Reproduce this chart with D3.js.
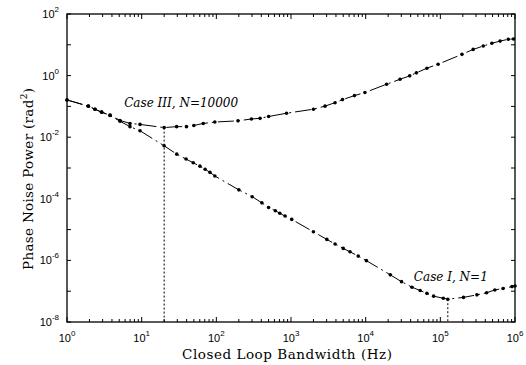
<!DOCTYPE html>
<html>
<head>
<meta charset="utf-8">
<script src="https://cdn.jsdelivr.net/npm/d3@7.9.0/dist/d3.min.js"></script>
<style>
  body { margin: 0; background: #fff; }
  svg { display: block; }
</style>
</head>
<body>
<svg id="chart" width="526" height="365"></svg>
<script>
// bandwidth (Hz) and phase noise power (rad^2)
const caseIIIx = [1, 1.93, 2.37, 2.91, 3.77, 5.13, 6.98, 9.5, 20, 29.4, 39.8, 50, 66.8, 95.5, 195, 295, 385, 501, 871,
  1995, 2851, 3890, 4900, 7080, 9770, 19050, 28840, 38900, 47860, 66070, 93300, 195000, 275400, 375800, 489800, 631000, 812800, 955000];
const caseIIIy = [0.162, 0.102, 0.081, 0.065, 0.052, 0.035, 0.028, 0.026, 0.0205, 0.022, 0.022, 0.024, 0.028, 0.031, 0.034, 0.039, 0.041, 0.047, 0.060,
  0.081, 0.102, 0.132, 0.166, 0.224, 0.282, 0.525, 0.76, 0.98, 1.23, 1.74, 2.34, 4.9, 7.08, 9.12, 11.2, 13.2, 15.1, 15.5];

const caseIx = [1, 1.93, 2.37, 2.91, 3.77, 5.13, 6.98, 9.5, 20, 29.5, 39.3, 49, 60.3, 70.8, 82.2, 95.5, 200, 302, 407, 501, 617, 708, 832, 1023,
  1995, 3020, 3890, 5010, 6170, 7940, 10230, 21380, 30200, 41690, 53700, 66070, 81280, 109600, 126000, 204000, 309000, 417000, 537000, 692000, 912000, 1000000];
const caseIy = [0.162, 0.102, 0.081, 0.065, 0.051, 0.033, 0.022, 0.0162, 0.00525, 0.00282, 0.00195, 0.00148, 0.00115, 0.00091, 0.00072, 0.00055, 0.000195, 0.000117, 7.4e-5, 5.2e-5, 4.1e-5, 3.4e-5, 2.75e-5, 2.14e-5,
  8.5e-6, 4.8e-6, 3.4e-6, 2.45e-6, 1.9e-6, 1.38e-6, 9.8e-7, 3.4e-7, 2.04e-7, 1.35e-7, 1.05e-7, 8.5e-8, 6.9e-8, 5.9e-8, 5.5e-8, 6.3e-8, 7.6e-8, 8.9e-8, 1.1e-7, 1.23e-7, 1.41e-7, 1.48e-7];

// optimum bandwidth markers (dotted drop lines)
const optX = [20, 126000];
const optY = [0.0205, 5.5e-8];

const xExp = [0, 1, 2, 3, 4, 5, 6];
const yExp = [2, 0, -2, -4, -6, -8];

const labels = [
  { text: 'Case III, N=10000', x: 20, y: 0.095, dx: 17 },
  { text: 'Case I, N=1', x: 126000, y: 2.2e-7, dx: 3 }
];

const svg = d3.select('#chart');
const margin = { top: 14, right: 11, bottom: 43, left: 67 };
const width = 526 - margin.left - margin.right;
const height = 365 - margin.top - margin.bottom;

const x = d3.scaleLog().domain([1, 1e6]).range([0, width]);
const y = d3.scaleLog().domain([1e-8, 1e2]).range([height, 0]);

const g = svg.append('g').attr('transform', `translate(${margin.left},${margin.top})`);

// minor + major ticks, pointing inward on all four sides
const xTicks = x.ticks();
const yTicks = d3.range(-8, 3).map((e) => Math.pow(10, e));
const isDecade = (v) => Math.abs(Math.log10(v) - Math.round(Math.log10(v))) < 1e-6;

xTicks.forEach((v) => {
  const len = isDecade(v) ? 5 : 3;
  g.append('line').attr('x1', x(v)).attr('x2', x(v)).attr('y1', height).attr('y2', height - len)
    .attr('stroke', '#000').attr('stroke-width', 1);
  g.append('line').attr('x1', x(v)).attr('x2', x(v)).attr('y1', 0).attr('y2', len)
    .attr('stroke', '#000').attr('stroke-width', 1);
});
yTicks.forEach((v) => {
  g.append('line').attr('x1', 0).attr('x2', 4).attr('y1', y(v)).attr('y2', y(v))
    .attr('stroke', '#000').attr('stroke-width', 1);
  g.append('line').attr('x1', width).attr('x2', width - 4).attr('y1', y(v)).attr('y2', y(v))
    .attr('stroke', '#000').attr('stroke-width', 1);
});

g.append('rect').attr('width', width).attr('height', height)
  .attr('fill', 'none').attr('stroke', '#000').attr('stroke-width', 1.3);

// tick labels as 10 with superscript exponent
xExp.forEach((e) => {
  const t = g.append('text').attr('x', x(Math.pow(10, e))).attr('y', height + 20)
    .attr('text-anchor', 'middle').attr('font-family', 'Liberation Sans, Arial, sans-serif')
    .attr('font-size', 11);
  t.append('tspan').text('10');
  t.append('tspan').attr('dy', -6).attr('font-size', 8).text(e);
});
yExp.forEach((e) => {
  const t = g.append('text').attr('x', -8).attr('y', y(Math.pow(10, e)) + 4)
    .attr('text-anchor', 'end').attr('font-family', 'Liberation Sans, Arial, sans-serif')
    .attr('font-size', 11);
  t.append('tspan').text('10');
  t.append('tspan').attr('dy', -6).attr('font-size', 8).text(e);
});

// axis titles
svg.append('text').attr('x', 182).attr('y', 359)
  .attr('font-family', 'DejaVu Serif, serif').attr('font-size', 13.5)
  .attr('textLength', 210).attr('lengthAdjust', 'spacing')
  .text('Closed Loop Bandwidth (Hz)');

const yt = svg.append('text').attr('transform', 'translate(33,270) rotate(-90)')
  .attr('font-family', 'DejaVu Serif, serif').attr('font-size', 13.5)
  .attr('textLength', 182).attr('lengthAdjust', 'spacing');
yt.append('tspan').text('Phase Noise Power (rad');
yt.append('tspan').attr('dy', -6).attr('font-size', 9).text('2');
yt.append('tspan').attr('dy', 6).text(')');

// dotted drop lines at the optimum bandwidths
optX.forEach((v, i) => {
  g.append('line').attr('x1', x(v)).attr('x2', x(v)).attr('y1', y(optY[i])).attr('y2', height)
    .attr('stroke', '#000').attr('stroke-width', 1).attr('stroke-dasharray', '2,2');
});

// curves
const line = d3.line().x((d) => x(d[0])).y((d) => y(d[1]));
const series = [d3.zip(caseIIIx, caseIIIy), d3.zip(caseIx, caseIy)];

series.forEach((pts) => {
  g.append('path').attr('d', line(pts)).attr('fill', 'none')
    .attr('stroke', '#000').attr('stroke-width', 1).attr('stroke-dasharray', '16,4,2,4');
  g.selectAll(null).data(pts).enter().append('circle')
    .attr('cx', (d) => x(d[0])).attr('cy', (d) => y(d[1])).attr('r', 1.8).attr('fill', '#000');
});

// case annotations
labels.forEach((l) => {
  g.append('text').attr('x', x(l.x) + l.dx).attr('y', y(l.y)).attr('text-anchor', 'middle')
    .attr('font-family', 'DejaVu Serif, serif').attr('font-style', 'italic').attr('font-size', 12)
    .text(l.text);
});
</script>
</body>
</html>
